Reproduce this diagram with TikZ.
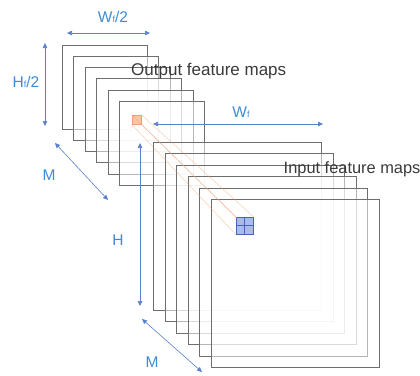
\documentclass[tikz,border=0pt]{standalone}
\usepackage{fontspec}
\setmainfont{Liberation Sans}
\usetikzlibrary{arrows.meta}
\definecolor{dimblue}{HTML}{5A80CC}
\definecolor{labelblue}{HTML}{3D8BD6}
\definecolor{mapgray}{HTML}{6E6E6E}
\definecolor{txtgray}{HTML}{3A3A3A}
\definecolor{orangefill}{HTML}{F7C6A6}
\definecolor{orangeline}{HTML}{F0A070}
\definecolor{cellfill}{HTML}{A9BCEB}
\definecolor{celledge}{HTML}{4666B4}
\tikzset{
  fmap/.style={draw=mapgray, line width=1.1pt, fill=white, fill opacity=0.5},
  dimarrow/.style={draw=dimblue, line width=0.6pt,
    {Triangle[length=5pt,width=4.5pt]}-{Triangle[length=5pt,width=4.5pt]}},
  dimlabel/.style={text=labelblue, font=\fontsize{15.5}{15.5}\selectfont, inner sep=0pt},
  caption/.style={text=txtgray, font=\fontsize{17}{17}\selectfont, inner sep=0pt, anchor=base west},
  ray/.style={draw=orangeline, line width=0.5pt, opacity=0.5},
}
\begin{document}
\begin{tikzpicture}[x=1pt,y=-1pt]
\useasboundingbox (0,0) rectangle (420,375);
\clip (0,0) rectangle (420,375);

% output feature maps (stack of six)
\foreach \l/\t in {62.5/45.5, 73.5/56.5, 85.5/67.5, 96.5/78.5, 108.5/90.5, 119.5/101.5}{
  \draw[fmap] (\l,\t) rectangle ++(85,84);
}
\node[caption] (outcap) at (131,75.5) {Output feature maps};

% input feature maps (stack of six)
\foreach \l/\t in {153.5/142.5, 165.5/153.5, 176.5/165.5, 188.5/176.5, 199.5/188.5, 211.5/199.5}{
  \draw[fmap] (\l,\t) rectangle ++(168,168);
}
\node[caption, font=\fontsize{16.4}{16.4}\selectfont] (incap) at (283.5,173) {Input feature maps};

% output pixel and its input window
\node[draw=orangeline, fill=orangefill, line width=0.6pt, minimum size=9pt, inner sep=0pt] (opix) at (136.5,119.5) {};
\node[draw=celledge, fill=cellfill, line width=0.7pt, minimum size=17pt, inner sep=0pt] (win) at (244.5,225.5) {};
\draw[ray] (opix.north east) -- (win.north east);
\draw[ray] (opix.north west) -- (win.north west);
\draw[ray] (opix.south west) -- (win.south west);
\draw[ray] (opix.south east) -- (win.south east);
\draw[celledge, line width=0.7pt] (win.north) -- (win.south) (win.west) -- (win.east);

% dimension arrows
\coordinate (wa) at (67,33);   \coordinate (wb) at (150,33);
\coordinate (ha) at (45,43);   \coordinate (hb) at (45,126);
\coordinate (ma) at (55,143);  \coordinate (mb) at (108,200);
\coordinate (Wa) at (153,124); \coordinate (Wb) at (323,124);
\coordinate (Ha) at (140,143); \coordinate (Hb) at (140,306);
\coordinate (Ma) at (142,319); \coordinate (Mb) at (202,372);
\draw[dimarrow] (wa) -- (wb);
\draw[dimarrow] (ha) -- (hb);
\draw[dimarrow] (ma) -- (mb);
\draw[dimarrow] (Wa) -- (Wb);
\draw[dimarrow] (Ha) -- (Hb);
\draw[dimarrow] (Ma) -- (Mb);

\node[dimlabel, anchor=base] (lw2) at (113,22) {W{\fontsize{9}{9}\selectfont f}/2};
\node[dimlabel, anchor=base] (lh2) at (26,87.5) {H{\fontsize{9}{9}\selectfont f}/2};
\node[dimlabel, anchor=base] (lm1) at (49,180) {M};
\node[dimlabel, anchor=base] (lw) at (241,117) {W{\fontsize{9}{9}\selectfont f}};
\node[dimlabel, anchor=base] (lh) at (118,245) {H};
\node[dimlabel, anchor=base] (lm2) at (152,367) {M};
\end{tikzpicture}
\end{document}
